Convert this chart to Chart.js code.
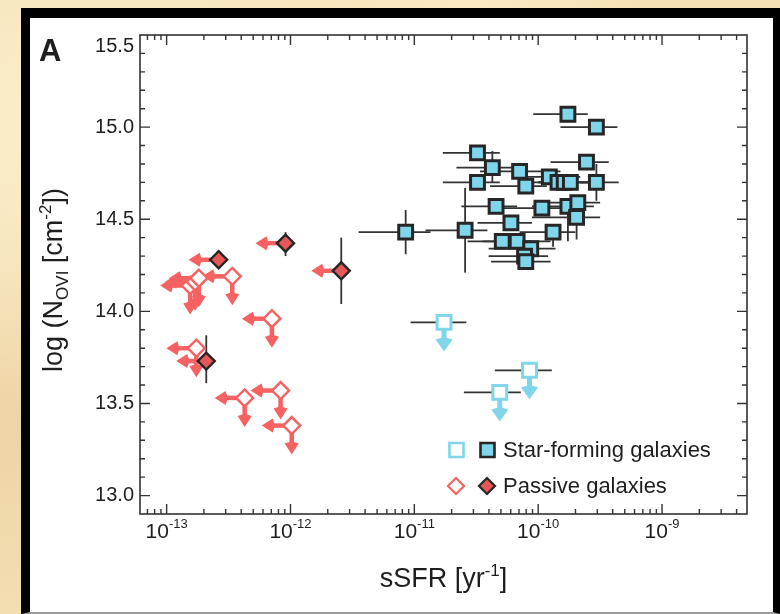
<!DOCTYPE html>
<html>
<head>
<meta charset="utf-8">
<script src="https://cdn.jsdelivr.net/npm/chart.js@4/dist/chart.umd.min.js"></script>
<style>
  html, body { margin: 0; padding: 0; width: 780px; height: 614px; overflow: hidden; }
  body {
    background-color: #f4e0b4;
    background-image:
      radial-gradient(ellipse at 10% 20%, rgba(255,245,215,0.7), rgba(255,245,215,0) 40%),
      radial-gradient(ellipse at 5% 70%, rgba(230,200,150,0.5), rgba(230,200,150,0) 35%),
      radial-gradient(ellipse at 60% 0%, rgba(255,240,205,0.6), rgba(255,240,205,0) 30%);
  }
  #panel {
    position: absolute; left: 21px; top: 8px;
    width: 743px; height: 594px;
    background: #ffffff;
    border-left: 9px solid #000; border-top: 10px solid #000;
    border-right: 7px solid #000; border-bottom: 2px solid #9a9a9a;
  }
  #c { position: absolute; left: 0; top: 0; }
</style>
</head>
<body>
<div id="panel"></div>
<canvas id="c" width="780" height="614"></canvas>
<script>
// ---- Star-forming galaxies (detections): log sSFR, log N(OVI) and error ranges ----
const sfLogSSFR = [-9.76, -9.53, -10.49, -10.37, -10.49, -10.15, -10.10, -9.91, -9.84, -9.79, -9.74,
                   -9.61, -9.53, -10.34, -9.97, -9.76, -9.68, -9.69, -10.22, -9.88, -11.07, -10.59,
                   -10.29, -10.17, -10.06, -10.11, -10.10];
const sfLogN    = [15.07, 15.00, 14.86, 14.78, 14.70, 14.76, 14.68, 14.73, 14.70, 14.70, 14.70,
                   14.81, 14.70, 14.57, 14.56, 14.57, 14.59, 14.51, 14.48, 14.43, 14.43, 14.44,
                   14.38, 14.38, 14.34, 14.30, 14.27];
const sfSSFRLo  = [-10.04, -9.82, -10.77, -10.66, -10.77, -10.47, -10.39, -10.15, -10.05, -10.00, -10.00,
                   -9.90, -9.66, -10.62, -10.31, -10.05, -9.95, -10.05, -10.49, -10.15, -11.45, -10.91,
                   -10.57, -10.45, -10.40, -10.40, -10.38];
const sfSSFRHi  = [-9.60, -9.36, -10.31, -10.20, -10.31, -9.82, -9.93, -9.66, -9.60, -9.55, -9.50,
                   -9.43, -9.35, -10.17, -9.70, -9.55, -9.50, -9.50, -10.05, -9.70, -10.87, -10.41,
                   -10.05, -9.90, -9.86, -9.92, -9.90];
const sfNLo     = [null, null, null, 14.70, null, null, null, null, null, null, null,
                   null, 14.60, null, 14.52, 14.38, null, 14.39, null, 14.35, 14.31, 14.21,
                   null, 14.35, null, null, 14.24];
const sfNHi     = [null, null, null, 14.87, null, null, null, null, null, null, null,
                   null, 14.80, null, 14.60, 14.60, null, 14.61, null, 14.47, 14.55, 14.67,
                   null, 14.41, null, null, 14.30];

// ---- Star-forming galaxies (upper limits on N) ----
const sfLimLogSSFR = [-10.76, -10.07, -10.31];
const sfLimLogN    = [13.94, 13.68, 13.56];
const sfLimSSFRLo  = [-11.03, -10.35, -10.60];
const sfLimSSFRHi  = [-10.58, -9.89, -10.14];

// ---- Passive galaxies (detections, sSFR upper limits) ----
const pdLogSSFR = [-12.04, -12.58, -11.59, -12.68];
const pdLogN    = [14.37, 14.28, 14.22, 13.73];
const pdNLo     = [14.30, null, 14.04, 13.61];
const pdNHi     = [14.43, null, 14.40, 13.87];

// ---- Passive galaxies (upper limits on both N and sSFR) ----
const plLogSSFR = [-12.81, -12.77, -12.74, -12.47, -12.15, -12.76, -12.37, -12.08, -11.99];
const plLogN    = [14.14, 14.16, 14.18, 14.19, 13.96, 13.80, 13.53, 13.57, 13.38];

// ---- Axis ranges and tick labels ----
const xLogMin = -13.215, xLogMax = -8.314;
const yMin = 12.9, yMax = 15.5;
const xTickExponents = [-13, -12, -11, -10, -9];
const yTickLabels = ['13.0', '13.5', '14.0', '14.5', '15.0', '15.5'];
const legendLabels = ['Star-forming galaxies', 'Passive galaxies'];

const CYAN = '#7fd6ea', EDGE = '#262626', RED = '#f66262', RED_FILL = '#e65858', ERR = '#333333';
const FONT = '"Liberation Sans", Arial, Helvetica, sans-serif';
const font = (s, w) => (w ? w + ' ' : '') + s + 'px ' + FONT;

const pts = (xs, ys) => xs.map((v, i) => ({ x: Math.pow(10, v), y: ys[i] }));

function drawArrow(ctx, x0, y0, x1, y1, color, shaftW, headLen, headHalf) {
  const a = Math.atan2(y1 - y0, x1 - x0);
  const bx = x1 - headLen * Math.cos(a), by = y1 - headLen * Math.sin(a);
  ctx.strokeStyle = color; ctx.lineWidth = shaftW; ctx.lineCap = 'butt';
  ctx.beginPath(); ctx.moveTo(x0, y0); ctx.lineTo(bx + Math.cos(a), by + Math.sin(a)); ctx.stroke();
  ctx.fillStyle = color;
  ctx.beginPath();
  ctx.moveTo(x1, y1);
  ctx.lineTo(bx - headHalf * Math.sin(a), by + headHalf * Math.cos(a));
  ctx.lineTo(bx - 0.2 * headLen * Math.cos(a), by - 0.2 * headLen * Math.sin(a));
  ctx.lineTo(bx + headHalf * Math.sin(a), by - headHalf * Math.cos(a));
  ctx.closePath(); ctx.fill();
}

function drawRich(ctx, parts, x, y, align) {
  let w = 0;
  parts.forEach(p => { ctx.font = font(p.size, p.weight); w += ctx.measureText(p.t).width; });
  let cx = align === 'center' ? x - w / 2 : (align === 'right' ? x - w : x);
  ctx.textAlign = 'left'; ctx.textBaseline = 'alphabetic';
  parts.forEach(p => {
    ctx.font = font(p.size, p.weight);
    ctx.fillText(p.t, cx, y + (p.dy || 0));
    cx += ctx.measureText(p.t).width;
  });
}

function markerSquare(ctx, x, y, half, fill, stroke, lw) {
  ctx.beginPath(); ctx.rect(x - half, y - half, 2 * half, 2 * half);
  ctx.fillStyle = fill; ctx.fill();
  ctx.lineWidth = lw; ctx.strokeStyle = stroke; ctx.stroke();
}
function markerDiamond(ctx, x, y, r, fill, stroke, lw) {
  ctx.beginPath();
  ctx.moveTo(x, y - r); ctx.lineTo(x + r, y); ctx.lineTo(x, y + r); ctx.lineTo(x - r, y); ctx.closePath();
  ctx.fillStyle = fill; ctx.fill();
  ctx.lineWidth = lw; ctx.strokeStyle = stroke; ctx.stroke();
}

const plotDecor = {
  id: 'plotDecor',
  beforeDatasetsDraw(chart) {
    const ctx = chart.ctx, xs = chart.scales.x, ys = chart.scales.y;
    const X = v => xs.getPixelForValue(Math.pow(10, v)), Y = v => ys.getPixelForValue(v);
    ctx.save();
    // error bars
    ctx.strokeStyle = ERR; ctx.lineWidth = 1.8;
    const hbar = (lo, hi, y) => { ctx.beginPath(); ctx.moveTo(X(lo), Y(y)); ctx.lineTo(X(hi), Y(y)); ctx.stroke(); };
    const vbar = (x, lo, hi) => { ctx.beginPath(); ctx.moveTo(X(x), Y(lo)); ctx.lineTo(X(x), Y(hi)); ctx.stroke(); };
    sfLogSSFR.forEach((v, i) => {
      hbar(sfSSFRLo[i], sfSSFRHi[i], sfLogN[i]);
      if (sfNLo[i] !== null) vbar(v, sfNLo[i], sfNHi[i]);
    });
    sfLimLogSSFR.forEach((v, i) => hbar(sfLimSSFRLo[i], sfLimSSFRHi[i], sfLimLogN[i]));
    pdLogSSFR.forEach((v, i) => { if (pdNLo[i] !== null) vbar(v, pdNLo[i], pdNHi[i]); });
    // limit arrows
    const L = 30, D = 29;
    plLogSSFR.forEach((v, i) => {
      const x = X(v), y = Y(plLogN[i]);
      drawArrow(ctx, x, y, x - L, y, RED, 4.5, 11, 7);
      drawArrow(ctx, x, y, x, y + D, RED, 4.5, 11, 7);
    });
    pdLogSSFR.forEach((v, i) => {
      const x = X(v), y = Y(pdLogN[i]);
      drawArrow(ctx, x, y, x - L, y, RED, 4.5, 11, 7);
    });
    sfLimLogSSFR.forEach((v, i) => {
      const x = X(v), y = Y(sfLimLogN[i]);
      drawArrow(ctx, x, y, x, y + D, CYAN, 5, 12, 8.5);
    });
    ctx.restore();
  },
  afterDatasetsDraw(chart) {
    const ctx = chart.ctx, xs = chart.scales.x, ys = chart.scales.y, a = chart.chartArea;
    ctx.save();
    // frame
    ctx.strokeStyle = '#333'; ctx.lineWidth = 1.6;
    ctx.strokeRect(a.left, a.top, a.right - a.left, a.bottom - a.top);
    // x ticks (bottom and top)
    ctx.lineWidth = 1.4;
    for (let e = -14; e <= -9; e++) {
      for (let m = 1; m <= 9; m++) {
        const v = m * Math.pow(10, e);
        const lv = Math.log10(v);
        if (lv <= xLogMin || lv >= xLogMax) continue;
        const px = xs.getPixelForValue(v), len = m === 1 ? 10 : 5;
        ctx.beginPath();
        ctx.moveTo(px, a.bottom); ctx.lineTo(px, a.bottom - len);
        ctx.moveTo(px, a.top); ctx.lineTo(px, a.top + len);
        ctx.stroke();
      }
    }
    // y ticks (left and right)
    for (let k = 0; k <= 26; k++) {
      const v = yMin + k * 0.1;
      if (v <= yMin + 1e-6 || v >= yMax - 1e-6) continue;
      const py = ys.getPixelForValue(v), major = Math.abs(v * 2 - Math.round(v * 2)) < 1e-6;
      const len = major ? 10 : 5;
      ctx.beginPath();
      ctx.moveTo(a.left, py); ctx.lineTo(a.left + len, py);
      ctx.moveTo(a.right, py); ctx.lineTo(a.right - len, py);
      ctx.stroke();
    }
    ctx.fillStyle = '#1e1e1e';
    // y tick labels
    ctx.font = font(20); ctx.textAlign = 'right'; ctx.textBaseline = 'middle';
    yTickLabels.forEach(t => {
      const py = Math.max(ys.getPixelForValue(parseFloat(t)), a.top + 11);
      ctx.fillText(t, a.left - 6, py);
    });
    // x tick labels
    xTickExponents.forEach(e => {
      const px = xs.getPixelForValue(Math.pow(10, e));
      drawRich(ctx, [{ t: '10', size: 21 }, { t: String(e), size: 13, dy: -10 }], px, a.bottom + 24, 'center');
    });
    // axis titles
    drawRich(ctx, [{ t: 'sSFR [yr', size: 27 }, { t: '-1', size: 17, dy: -11 }, { t: ']', size: 27 }],
             (a.left + a.right) / 2, 587, 'center');
    ctx.save();
    ctx.translate(62, 280); ctx.rotate(-Math.PI / 2);
    drawRich(ctx, [{ t: 'log (N', size: 27 }, { t: 'OVI', size: 17, dy: 6 }, { t: ' [cm', size: 27 },
                   { t: '-2', size: 17, dy: -11 }, { t: '])', size: 27 }], 0, 0, 'center');
    ctx.restore();
    // panel letter
    ctx.font = font(31, 'bold'); ctx.textAlign = 'left'; ctx.textBaseline = 'alphabetic';
    ctx.fillText('A', 39, 61);
    // legend
    markerSquare(ctx, 456.5, 450, 7, '#ffffff', CYAN, 2.6);
    markerSquare(ctx, 487.5, 450, 7, CYAN, EDGE, 2.6);
    markerDiamond(ctx, 456, 486, 8, '#ffffff', RED, 2.2);
    markerDiamond(ctx, 487, 486, 8, RED_FILL, EDGE, 2.2);
    ctx.fillStyle = '#1e1e1e'; ctx.font = font(22); ctx.textAlign = 'left'; ctx.textBaseline = 'middle';
    ctx.fillText(legendLabels[0], 503, 451);
    ctx.fillText(legendLabels[1], 503, 487);
    ctx.restore();
  }
};

new Chart(document.getElementById('c'), {
  type: 'scatter',
  data: {
    datasets: [
      { label: legendLabels[0], data: pts(sfLogSSFR, sfLogN), pointStyle: 'rect', pointRadius: 9.8,
        backgroundColor: CYAN, borderColor: EDGE, borderWidth: 3 },
      { label: legendLabels[0] + ' (limits)', data: pts(sfLimLogSSFR, sfLimLogN), pointStyle: 'rect', pointRadius: 9.8,
        backgroundColor: '#ffffff', borderColor: CYAN, borderWidth: 3 },
      { label: legendLabels[1], data: pts(pdLogSSFR, pdLogN), pointStyle: 'rectRot', pointRadius: 8.5,
        backgroundColor: RED_FILL, borderColor: EDGE, borderWidth: 2.4 },
      { label: legendLabels[1] + ' (limits)', data: pts(plLogSSFR, plLogN), pointStyle: 'rectRot', pointRadius: 8.5,
        backgroundColor: '#ffffff', borderColor: RED, borderWidth: 2.4 }
    ]
  },
  options: {
    responsive: false,
    animation: false,
    events: [],
    layout: { padding: { left: 140, right: 33, top: 35, bottom: 100 } },
    scales: {
      x: { type: 'logarithmic', min: Math.pow(10, xLogMin), max: Math.pow(10, xLogMax), display: false },
      y: { type: 'linear', min: yMin, max: yMax, display: false }
    },
    plugins: { legend: { display: false }, tooltip: { enabled: false } }
  },
  plugins: [plotDecor]
});
</script>
</body>
</html>
